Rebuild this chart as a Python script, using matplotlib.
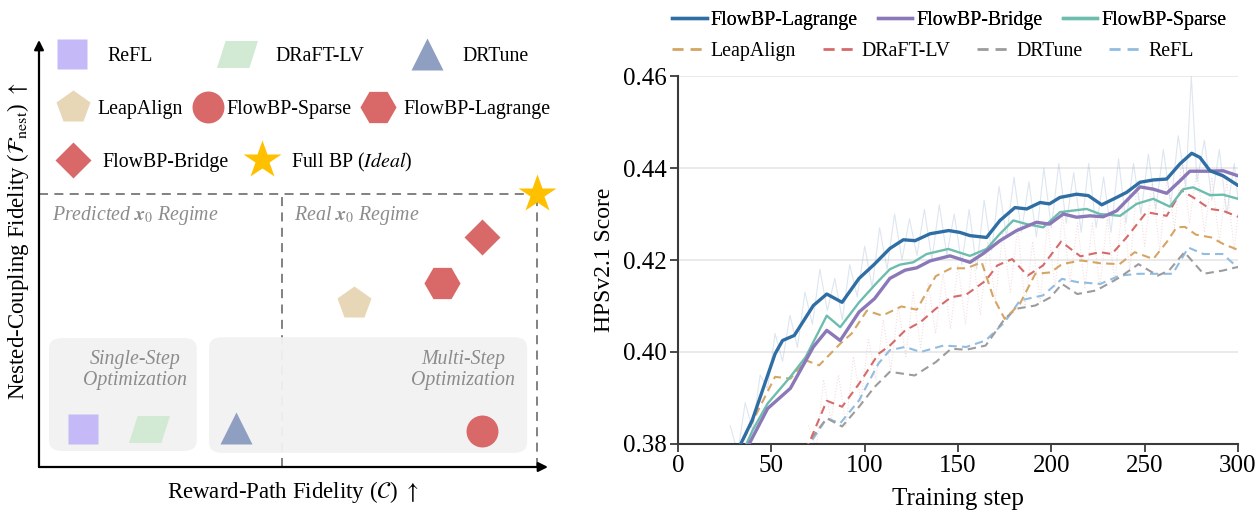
import numpy as np
import matplotlib
matplotlib.use("Agg")
import matplotlib.pyplot as plt
from matplotlib.path import Path
from matplotlib.patches import FancyBboxPatch
from matplotlib.lines import Line2D

plt.rcParams['font.family'] = ['Liberation Serif', 'DejaVu Serif']
plt.rcParams['mathtext.fontset'] = 'stix'

# ---------------- Left panel data (conceptual positions, 0..1) ----------------
methods = ['ReFL', 'DRaFT-LV', 'DRTune', 'LeapAlign', 'FlowBP-Sparse',
           'FlowBP-Lagrange', 'FlowBP-Bridge', 'Full BP']
reward_path = [0.086, 0.216, 0.387, 0.619, 0.870, 0.792, 0.870, 0.978]
nested_coupling = [0.089, 0.089, 0.091, 0.384, 0.084, 0.431, 0.539, 0.64]
concept_colors = ['#c6b9f7', '#d2e9d3', '#8f9fc1', '#e8d7b6', '#d96868',
                  '#d96868', '#d96868', '#ffc000']

# ---------------- Right panel data ----------------
lagrange_x = [30, 33.6, 39.8, 52, 56, 62.3, 72.5, 79.7, 87.9, 97, 105, 113.5, 120.7,
              127, 135, 145, 151, 156.4, 165.3, 172.5, 180.5, 186.8, 194, 199, 204.6,
              213.5, 219.8, 227, 235, 240.3, 247.5, 254.6, 261.8, 268.9, 275.2, 279.6,
              285, 292, 300]
lagrange_y = [0.3765, 0.380, 0.3852, 0.3996, 0.4025, 0.4036, 0.4101, 0.4126, 0.4108,
              0.4160, 0.4190, 0.4225, 0.4244, 0.4242, 0.4257, 0.4264, 0.4260, 0.4253,
              0.4249, 0.4286, 0.4314, 0.4311, 0.4325, 0.4322, 0.4336, 0.4343, 0.4340,
              0.4320, 0.4336, 0.4347, 0.4369, 0.4374, 0.4376, 0.4409, 0.4432, 0.4423,
              0.4394, 0.4383, 0.4362]

bridge_x = [35, 38.1, 48, 60.2, 72.5, 79.7, 86.9, 97, 105.3, 113.5, 121.7, 127.9, 135,
            145.7, 156.4, 163.5, 172.5, 181.4, 192, 199, 206.4, 213.5, 220.7, 227.8,
            235, 242, 247.5, 254.6, 261.8, 268.9, 274.2, 283, 292, 300]
bridge_y = [0.3775, 0.380, 0.3877, 0.3921, 0.4011, 0.4047, 0.4025, 0.4087, 0.4116,
            0.4160, 0.4178, 0.4183, 0.4198, 0.4209, 0.4195, 0.4214, 0.4242, 0.4264,
            0.4282, 0.4278, 0.4300, 0.4293, 0.4296, 0.4294, 0.4307, 0.4336, 0.4359,
            0.4354, 0.4345, 0.4372, 0.4393, 0.4393, 0.4394, 0.4383]

sparse_x = [35, 40, 48, 60.2, 68.4, 79.7, 86.9, 97, 106.4, 113.5, 119, 126, 133.2,
            144.8, 156.4, 165.3, 172.5, 179.6, 186.8, 195.7, 204.6, 218.9, 226, 236.8,
            245.7, 254.6, 263.5, 270.7, 276, 285, 292, 300]
sparse_y = [0.3785, 0.3830, 0.3888, 0.3946, 0.3989, 0.4079, 0.4054, 0.4108, 0.4150,
            0.4180, 0.4190, 0.4195, 0.4213, 0.4224, 0.4209, 0.4224, 0.4257, 0.4286,
            0.4278, 0.4271, 0.4304, 0.4311, 0.4300, 0.4296, 0.4322, 0.4333, 0.4316,
            0.4354, 0.4358, 0.4341, 0.4342, 0.4333]

leap_x = [35, 37.7, 43.9, 52, 60.2, 68.4, 75.6, 86.9, 93, 101.2, 109.4, 119.7, 127.9,
          138.1, 146.3, 154.5, 162.7, 168.9, 175, 183.2, 191.4, 199.6, 205.7, 216,
          226.2, 236.5, 244.7, 254.6, 262, 267.1, 271.6, 277.5, 285.7, 292, 300]
leap_y = [0.3810, 0.3830, 0.3881, 0.3946, 0.3942, 0.3982, 0.3971, 0.4018, 0.4040,
          0.4090, 0.4079, 0.4099, 0.4092, 0.4165, 0.4182, 0.4182, 0.4195, 0.4119,
          0.4072, 0.4105, 0.4170, 0.4173, 0.4191, 0.4199, 0.4193, 0.4191, 0.4217,
          0.4202, 0.4240, 0.4271, 0.4272, 0.4255, 0.4249, 0.4235, 0.4222]

draft_x = [68, 70.5, 79.7, 87.9, 97, 107.4, 113.5, 121.7, 129.9, 138.1, 146.3, 154.5,
           164.8, 171, 179, 187.3, 195.5, 205.2, 215.6, 226.1, 232.4, 240.3, 251,
           261.8, 269.8, 276, 285, 292, 300]
draft_y = [0.3785, 0.3805, 0.3894, 0.3881, 0.3931, 0.3996, 0.4014, 0.4047, 0.4065,
           0.4094, 0.4119, 0.4125, 0.4155, 0.4188, 0.4202, 0.4166, 0.4188, 0.4240,
           0.4208, 0.4217, 0.4213, 0.4249, 0.4304, 0.4296, 0.4351, 0.4336, 0.4311,
           0.4307, 0.4294]

drtune_x = [68, 72, 79.7, 87.9, 97, 105.3, 113.5, 126.8, 138.1, 146.3, 154.5, 164.8,
            175, 181.1, 191.4, 199.6, 205.7, 213.9, 224.2, 236.5, 246.7, 257, 263,
            271.3, 281.5, 291.8, 300]
drtune_y = [0.3785, 0.3815, 0.3856, 0.3838, 0.3881, 0.3924, 0.3957, 0.3949, 0.3978,
            0.4007, 0.4005, 0.4014, 0.4072, 0.4094, 0.4101, 0.4119, 0.4148, 0.4126,
            0.4134, 0.4162, 0.4191, 0.4166, 0.4177, 0.4217, 0.4170, 0.4177, 0.4185]

refl_x = [68, 70.5, 79.7, 86.9, 97, 107.4, 113.5, 121.7, 129.9, 142.2, 154.5, 164.8,
          175, 183.2, 195.5, 205.7, 213.9, 226.2, 236.5, 246.7, 257, 265, 273.4,
          281.5, 291.8, 300]
refl_y = [0.3785, 0.3800, 0.3856, 0.3845, 0.3895, 0.3975, 0.4004, 0.4011, 0.4000,
          0.4014, 0.4011, 0.4025, 0.4065, 0.4112, 0.4123, 0.4159, 0.4152, 0.4148,
          0.4166, 0.4170, 0.4170, 0.4170, 0.4227, 0.4213, 0.4213, 0.4183]

# raw (unsmoothed) traces, faint in the background
raw_lagrange_x = [28, 32, 36, 40, 44, 48, 52, 56, 60, 64, 68, 72, 76, 80, 84, 88, 92, 96,
                  100, 104, 108, 112, 116, 120, 124, 128, 132, 136, 140, 144, 148, 152,
                  156, 160, 164, 168, 172, 176, 180, 184, 188, 192, 196, 200, 204, 208,
                  212, 216, 220, 224, 228, 232, 236, 240, 244, 248, 252, 256, 260, 264,
                  268, 272, 275, 278, 282, 286, 290, 294, 298, 300]
raw_lagrange_y = [0.384, 0.378, 0.389, 0.383, 0.395, 0.392, 0.404, 0.398, 0.408, 0.401,
                  0.413, 0.406, 0.418, 0.409, 0.416, 0.407, 0.419, 0.412, 0.423, 0.414,
                  0.427, 0.418, 0.430, 0.420, 0.429, 0.421, 0.431, 0.420, 0.432, 0.421,
                  0.430, 0.419, 0.431, 0.418, 0.433, 0.422, 0.436, 0.425, 0.438, 0.426,
                  0.437, 0.425, 0.440, 0.427, 0.441, 0.428, 0.439, 0.426, 0.441, 0.427,
                  0.438, 0.426, 0.442, 0.428, 0.441, 0.430, 0.443, 0.431, 0.444, 0.432,
                  0.447, 0.436, 0.460, 0.437, 0.446, 0.433, 0.444, 0.430, 0.441, 0.433]
raw_draft_x = [70, 74, 78, 82, 86, 90, 94, 98, 102, 106, 110, 114, 118, 122, 126, 130,
               134, 138, 142, 146, 150, 154, 158, 162, 166, 170, 174, 178, 182, 186, 190,
               194, 198, 202, 206, 210, 214, 218, 222, 226, 230, 234, 238, 242, 246, 250,
               254, 258, 262, 266, 270, 274, 278, 282, 286, 290, 294, 298, 300]
raw_draft_y = [0.384, 0.379, 0.394, 0.385, 0.395, 0.384, 0.399, 0.389, 0.403, 0.394,
               0.407, 0.396, 0.410, 0.399, 0.413, 0.401, 0.415, 0.404, 0.417, 0.405,
               0.419, 0.406, 0.421, 0.408, 0.424, 0.411, 0.426, 0.413, 0.427, 0.410,
               0.424, 0.411, 0.428, 0.414, 0.430, 0.415, 0.428, 0.414, 0.428, 0.414,
               0.429, 0.415, 0.432, 0.418, 0.437, 0.423, 0.437, 0.422, 0.438, 0.427,
               0.442, 0.428, 0.440, 0.426, 0.438, 0.424, 0.437, 0.422, 0.430]

y_ticks = [0.38, 0.40, 0.42, 0.44, 0.46]
x_ticks = [0, 50, 100, 150, 200, 250, 300]

W, H = 1260, 512
fig = plt.figure(figsize=(W / 100, H / 100), dpi=100)

FS = 14.3
LFS = 16.5
GRAY_TXT = '#8c8c8c'

# ================= Left panel =================
axL = fig.add_axes([39 / W, (H - 467) / H, (548 - 39) / W, (467 - 40) / H])
axL.set_xlim(0, 1)
axL.set_ylim(0, 1)
for s in axL.spines.values():
    s.set_visible(False)
axL.set_xticks([])
axL.set_yticks([])

# axes arrows
axL.annotate('', xy=(1.0, 0), xytext=(0, 0), xycoords='axes fraction',
             arrowprops=dict(arrowstyle='-|>', color='black', lw=1.6,
                             mutation_scale=14, shrinkA=0, shrinkB=0), annotation_clip=False)
axL.annotate('', xy=(0, 1.0), xytext=(0, 0), xycoords='axes fraction',
             arrowprops=dict(arrowstyle='-|>', color='black', lw=1.6,
                             mutation_scale=14, shrinkA=0, shrinkB=0), annotation_clip=False)

star_x, star_y = reward_path[-1], nested_coupling[-1]
dash_kw = dict(color='#777777', lw=1.3, ls=(0, (5, 3.5)), zorder=1)
axL.plot([0, star_x], [star_y, star_y], **dash_kw)
axL.plot([star_x, star_x], [0, star_y], **dash_kw)
axL.plot([0.477, 0.477], [0, star_y], **dash_kw)

# gray rounded boxes
for (x0, y0, x1, y1) in [(0.0196, 0.0375, 0.310, 0.302), (0.334, 0.033, 0.959, 0.304)]:
    pad = 0.02
    box = FancyBboxPatch((x0 + pad, y0 + pad), x1 - x0 - 2 * pad, y1 - y0 - 2 * pad,
                         boxstyle='round,pad=0.02,rounding_size=0.025',
                         fc='#f2f2f2', ec='none', alpha=0.95, zorder=2)
    axL.add_patch(box)

axL.text(0.0255, 0.588, r'Predicted $\mathbfit{x}_0$ Regime', fontsize=FS, style='italic',
         color=GRAY_TXT, va='center', ha='left')
axL.text(0.501, 0.588, r'Real $\mathbfit{x}_0$ Regime', fontsize=FS, style='italic',
         color=GRAY_TXT, va='center', ha='left')
axL.text(0.189, 0.227, 'Single-Step\nOptimization', fontsize=FS, style='italic',
         color=GRAY_TXT, va='center', ha='center', linespacing=1.1, zorder=3)
axL.text(0.833, 0.227, 'Multi-Step\nOptimization', fontsize=FS, style='italic',
         color=GRAY_TXT, va='center', ha='center', linespacing=1.1, zorder=3)

para = Path([(-0.5, -0.33), (0.29, -0.33), (0.5, 0.33), (-0.29, 0.33), (-0.5, -0.33)],
            [Path.MOVETO, Path.LINETO, Path.LINETO, Path.LINETO, Path.CLOSEPOLY])
markers = ['s', para, '^', 'p', 'o', 'H', 'D', '*']
msizes = [22, 29.5, 23, 25, 23, 26, 18, 29]

for m, xv, yv, c, mk, ms in zip(methods, reward_path, nested_coupling, concept_colors,
                                markers, msizes):
    axL.plot([xv], [yv], marker=mk, ms=ms, color=c, mec='none', ls='none',
             zorder=5, clip_on=False)

# legend (manual layout)
leg_rows = [0.967, 0.967, 0.967, 0.843, 0.843, 0.843, 0.719, 0.719]
leg_marker_x = [0.0648, 0.389, 0.762, 0.0668, 0.332, 0.666, 0.0668, 0.438]
leg_text_x = [0.1336, 0.4637, 0.831, 0.114, 0.369, 0.715, 0.1238, 0.495]
leg_labels = ['ReFL', 'DRaFT-LV', 'DRTune', 'LeapAlign', 'FlowBP-Sparse',
              'FlowBP-Lagrange', 'FlowBP-Bridge', r'Full BP ($\mathit{Ideal}$)']
for lab, ry, mx, tx, c, mk, ms in zip(leg_labels, leg_rows, leg_marker_x, leg_text_x,
                                      concept_colors, markers, msizes):
    axL.plot([mx], [ry], marker=mk, ms=ms, color=c, mec='none', ls='none',
             zorder=5, clip_on=False)
    axL.text(tx, ry - 0.005, lab, fontsize=FS, va='center', ha='left')

fig.text(293 / W, 1 - 492 / H, r'Reward-Path Fidelity ($\mathcal{C}$) $\uparrow$', fontsize=LFS,
         ha='center', va='center')
fig.text(18 / W, 1 - 241 / H,
         r'Nested-Coupling Fidelity ($\mathcal{F}_{\mathrm{nest}}$) $\uparrow$',
         fontsize=LFS, ha='center', va='center', rotation=90)

# ================= Right panel =================
axR = fig.add_axes([678 / W, (H - 444) / H, 560 / W, 368 / H])
axR.set_xlim(0, 300)
axR.set_ylim(0.38, 0.46)
axR.set_yticks(y_ticks)
axR.set_yticklabels([f'{v:.2f}' for v in y_ticks])
axR.set_xticks(x_ticks)
axR.grid(axis='y', color='#e6e6e6', lw=1.2)
axR.set_axisbelow(True)
for s in ['top', 'right']:
    axR.spines[s].set_visible(False)
for s in ['left', 'bottom']:
    axR.spines[s].set_color('#3a3a3a')
    axR.spines[s].set_linewidth(1.5)
axR.tick_params(axis='both', labelsize=18, length=6, width=1.3, color='#3a3a3a',
                direction='out', pad=2)
axR.set_xlabel('Training step', fontsize=18, labelpad=8)
axR.set_ylabel('HPSv2.1 Score', fontsize=17, labelpad=6)

# faint raw traces
axR.plot(raw_lagrange_x, raw_lagrange_y, color='#9fb8d4', lw=0.8, alpha=0.35, zorder=1)
axR.plot(raw_draft_x, raw_draft_y, color='#e3a0a0', lw=0.8, alpha=0.35, ls=':', zorder=1)

series = [
    ('FlowBP-Lagrange', lagrange_x, lagrange_y, '#2f6ea5', 2.4, '-'),
    ('FlowBP-Bridge', bridge_x, bridge_y, '#8a78b8', 2.4, '-'),
    ('FlowBP-Sparse', sparse_x, sparse_y, '#6dbdae', 1.7, '-'),
    ('LeapAlign', leap_x, leap_y, '#d5a565', 1.5, '--'),
    ('DRaFT-LV', draft_x, draft_y, '#d66a6a', 1.5, '--'),
    ('DRTune', drtune_x, drtune_y, '#9c9c9c', 1.5, '--'),
    ('ReFL', refl_x, refl_y, '#92bce0', 1.5, '--'),
]
handles = []
for name, xs, ys, c, lw, ls in series[::-1]:
    ln, = axR.plot(xs, ys, color=c, lw=lw, ls=ls, solid_capstyle='round', zorder=3)
    if ls == '--':
        ln.set_dashes((4, 2.5))
for name, xs, ys, c, lw, ls in series:
    h = Line2D([], [], color=c, lw=2.4 if ls == '-' else 2.0, ls=ls, label=name)
    if ls == '--':
        h.set_dashes((4, 2.5))
    handles.append(h)

leg1 = fig.legend(handles=handles[:3], loc='upper left', bbox_to_anchor=(672 / W, 1 - 11 / H),
                  ncol=3, frameon=False, fontsize=FS, handlelength=1.75, handletextpad=0.2,
                  columnspacing=1.0, borderaxespad=0, borderpad=0)
leg2 = fig.legend(handles=handles[3:], loc='upper left', bbox_to_anchor=(672 / W, 1 - 42 / H),
                  ncol=4, frameon=False, fontsize=FS, handlelength=1.75, handletextpad=0.2,
                  columnspacing=1.35, borderaxespad=0, borderpad=0)
fig.add_artist(leg1)

fig.savefig('out.png', dpi=100)
